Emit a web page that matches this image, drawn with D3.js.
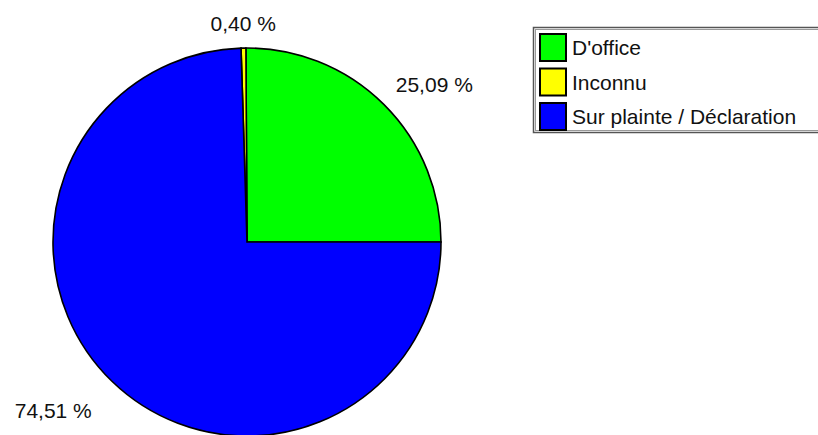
<!DOCTYPE html>
<html>
<head>
<meta charset="utf-8">
<script src="https://cdn.jsdelivr.net/npm/d3@7/dist/d3.min.js"></script>
<style>
  html, body { margin: 0; padding: 0; background: #fff; }
  svg { display: block; }
  text { font-family: "Liberation Sans", Arial, sans-serif; font-size: 21px; fill: #111; }
</style>
</head>
<body>
<svg id="chart" width="818" height="435"></svg>
<script>
// Répartition par origine de la saisine
const categories = ["D'office", "Inconnu", "Sur plainte / Déclaration"];
const values = [25.09, 0.40, 74.51];
const colors = ["#00ff00", "#ffff00", "#0000ff"];

const svg = d3.select("#chart");

const cx = 247, cy = 242, radius = 194;
const labelRadius = radius + 17;
const lowerExtra = 12;

const fr = d3.formatLocale({ decimal: ",", thousands: " ", grouping: [3], currency: ["", " €"] });
const fmt = v => fr.format(".2f")(v) + " %";

const data = categories.map((c, i) => ({ name: c, value: values[i], color: colors[i] }));

// Slices run counter-clockwise from 3 o'clock
const pie = d3.pie()
  .sort(null)
  .value(d => d.value)
  .startAngle(Math.PI / 2)
  .endAngle(Math.PI / 2 - 2 * Math.PI);

const arcs = pie(data);
const arc = d3.arc().innerRadius(0).outerRadius(radius);

const g = svg.append("g").attr("transform", `translate(${cx},${cy})`);

g.selectAll("path.slice")
  .data(arcs)
  .join("path")
  .attr("class", "slice")
  .attr("d", arc)
  .attr("fill", d => d.data.color)
  .attr("stroke", "#000")
  .attr("stroke-width", 1.6)
  .attr("stroke-linejoin", "miter");

// Percentage labels just outside the rim, anchored by the side they fall on
g.selectAll("text.pct")
  .data(arcs)
  .join("text")
  .attr("class", "pct")
  .each(function (d) {
    const a = (d.startAngle + d.endAngle) / 2;
    const sx = Math.sin(a), cyv = -Math.cos(a);
    const lr = cyv < 0 ? labelRadius : labelRadius + lowerExtra;
    const x = lr * sx, y = lr * cyv;
    const anchor = sx > 0.15 ? "start" : sx < -0.15 ? "end" : "middle";
    d3.select(this)
      .attr("x", x)
      .attr("y", cyv < 0 ? y : y + 16)
      .attr("text-anchor", anchor)
      .text(fmt(d.data.value));
  });

// Legend
const legend = svg.append("g").attr("transform", "translate(533,27)");
legend.append("rect")
  .attr("x", 0.5).attr("y", 0.5)
  .attr("width", 300).attr("height", 105)
  .attr("fill", "#fff")
  .attr("stroke", "#555").attr("stroke-width", 1.5);
legend.append("rect")
  .attr("x", 2.5).attr("y", 2.5)
  .attr("width", 300).attr("height", 101)
  .attr("fill", "none")
  .attr("stroke", "#999").attr("stroke-width", 1);

const rowStep = 34.5;
const rows = legend.selectAll("g.row")
  .data(data)
  .join("g")
  .attr("class", "row")
  .attr("transform", (d, i) => `translate(0,${i * rowStep})`);

rows.append("rect")
  .attr("x", 7).attr("y", 7)
  .attr("width", 26).attr("height", 27)
  .attr("fill", d => d.color)
  .attr("stroke", "#000").attr("stroke-width", 2);

rows.append("text")
  .attr("x", 39).attr("y", 28)
  .text(d => d.name);
</script>
</body>
</html>
